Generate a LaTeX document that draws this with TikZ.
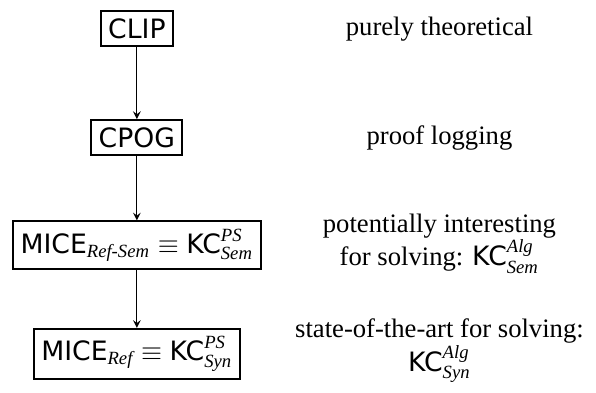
\documentclass[tikz,border=0pt]{standalone}
\usepackage{fontspec}
\usepackage{amsmath}
\usepackage{tikz}
\setmainfont{Liberation Serif}
\setsansfont{DejaVu Sans}

\begin{document}
\begin{tikzpicture}[font=\fontsize{10.8pt}{13.6pt}\selectfont,
                    box/.style={draw,thick,inner sep=3pt},
                    note/.style={draw=none,align=center}]
             \useasboundingbox (0,0) rectangle (8.49,-5.59);

             \node[box] (clip) at (1.95,-0.41) {\textsf{CLIP}};
             \node[box] (cpog) at (1.95,-1.96) {\textsf{CPOG}};
             \node[box] (micerefsem) at (1.95,-3.49) {\textsf{MICE}$_{\textit{Ref-Sem}}\equiv\textsf{KC}^{\textit{PS}}_{\textit{Sem}}$};
             \node[box] (miceref) at (1.95,-5.04) {\textsf{MICE}$_{\textit{Ref}}\equiv\textsf{KC}^{\textit{PS}}_{\textit{Syn}}$};

             \node[note] (theo) at (6.26,-0.41) {purely theoretical};
             \node[note] (logging) at (6.26,-1.96) {proof logging};
             \node[note] (interesting) at (6.26,-3.47) {potentially interesting\\for solving: $\textsf{KC}^{\textit{Alg}}_{\textit{Sem}}$};
             \node[note] (sota) at (6.26,-5.0) {state-of-the-art for solving:\\$\textsf{KC}^{\textit{Alg}}_{\textit{Syn}}$};

             \draw[-stealth] (clip) -- (cpog);
             \draw[-stealth] (cpog) -- (micerefsem);
             \draw[-stealth] (micerefsem) -- (miceref);
             \end{tikzpicture}
\end{document}
